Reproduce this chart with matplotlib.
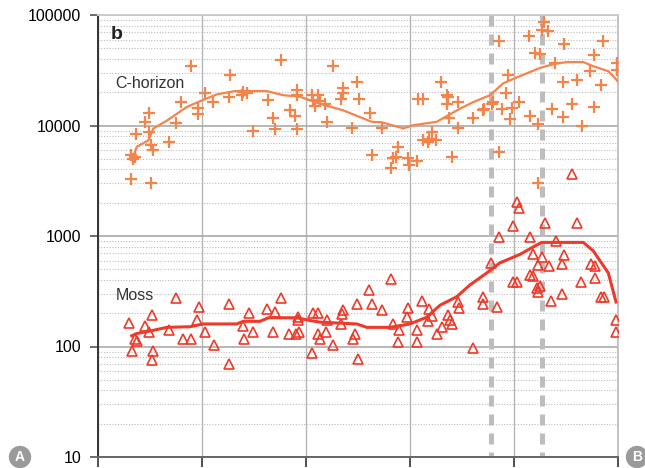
import matplotlib
matplotlib.use("Agg")
import matplotlib.pyplot as plt
from matplotlib.ticker import LogLocator, NullFormatter, FixedLocator
import numpy as np

plt.rcParams['font.family'] = ['Liberation Sans', 'DejaVu Sans']

# distance along transect (km), concentration
c_x = [89.1, 126.9, 102.9, 79.8, 96.4, 96.4, 110.9, 126.3, 139.4, 143.0, 138.2, 163.2,
       175.7, 191.6, 191.6, 184.6, 189.4, 168.0, 170.2, 148.8, 191.6, 74.7, 49.3, 45.2,
       36.3, 49.3, 51.0, 53.2, 68.3, 31.4, 35.6, 33.4, 31.7, 51.0, 226.3, 249.3, 235.9,
       235.3, 233.4, 251.0, 205.5, 211.8, 207.0, 213.5, 208.7, 218.3, 261.5, 219.9, 243.9,
       272.8, 329.5, 336.8, 335.3, 346.4, 360.9, 370.5, 378.6, 337.5, 346.4, 308.0, 312.2,
       312.8, 318.6, 320.9, 325.0, 317.6, 288.2, 263.2, 286.5, 283.9, 298.4, 299.3, 306.4,
       281.4, 340.1, 385.9, 428.8, 426.6, 433.0, 414.7, 385.9, 448.1, 485.9, 420.2, 425.0,
       476.9, 439.4, 499.5, 499.5, 473.1, 394.5, 446.8, 460.3, 483.7, 335.9, 392.3, 380.1,
       405.1, 397.8, 371.2, 388.2, 396.2, 415.4, 423.4, 436.3, 455.5, 446.8, 477.2, 465.1,
       423.4]
c_y = [34400, 28800, 19800, 16300, 14400, 12700, 16300, 18200, 20200, 19500, 18800, 17100,
       38900, 21000, 18800, 13700, 12300, 11600, 9280, 8990, 9280, 10500, 13000, 10700,
       8390, 8680, 6640, 6000, 7100, 5420, 5140, 5000, 3310, 3010, 34400, 25000, 21700,
       19500, 17500, 17500, 18800, 18800, 16900, 16600, 15000, 15700, 13000, 10700, 9410,
       9410, 24600, 18200, 15700, 16300, 11600, 13700, 15700, 11600, 9410, 17500, 17300,
       7430, 7590, 8680, 7430, 7100, 6410, 5420, 5240, 5060, 5060, 4430, 4810,
       4140, 5140, 5800, 86700, 72600, 71600, 63900, 57800, 54700, 58700, 45700, 44800,
       43500, 37000, 37000, 32100, 31000, 28800, 25000, 25900, 23300, 18800, 19500, 16300,
       16300, 14400, 14200, 14200, 11400, 12300, 10300, 14200, 15700, 11900, 14700, 9800,
       2990]
c_trend_x = [33.4, 37.2, 48.4, 53.2, 66.1, 85.3, 98.1, 114.1, 131.7, 162.2, 178.2, 194.2,
             213.5, 235.9, 263.2, 272.8, 293.6, 303.2, 325.7, 348.1, 360.9, 376.9, 389.7,
             402.6, 425.0, 439.4, 450.7, 466.6, 476.3, 490.7, 497.1, 505.1]
c_trend_y = [5060, 6410, 7340, 9410, 11050, 14700, 16600, 19100, 20500, 20500, 18800, 18200,
             15700, 13700, 10800, 10700, 9410, 10060, 10800, 14200, 16300, 18800, 24100,
             27200, 33200, 36200, 37500, 37500, 34400, 31000, 26800, 22000]

m_x = [30.1, 35.6, 37.2, 32.4, 45.2, 51.6, 49.3, 53.2, 51.6, 75.0, 68.6, 81.4, 89.1, 94.9,
       97.1, 102.9, 111.5, 126.3, 126.3, 139.7, 140.4, 145.2, 148.8, 162.2, 170.2, 168.0,
       176.0, 183.9, 190.4, 192.6, 192.6, 193.6, 205.5, 207.0, 211.3, 211.8, 213.5, 219.9,
       219.2, 226.3, 233.7, 234.3, 235.9, 244.9, 247.1, 249.3, 250.3, 260.9, 263.2, 273.4,
       281.4, 283.9, 289.7, 288.2, 298.4, 297.4, 306.4, 306.4, 311.2, 318.6, 317.6, 320.9,
       325.7, 330.5, 336.3, 338.5, 340.7, 346.4, 347.4, 360.3, 370.5, 369.9, 377.6, 383.4,
       385.9, 399.3, 402.6, 405.1, 398.8, 402.6, 415.4, 418.6, 426.6, 415.4, 418.6, 423.4,
       422.4, 425.0, 423.4, 429.8, 433.7, 435.6, 440.1, 448.1, 446.4, 446.4, 455.5, 460.9,
       464.4, 474.0, 477.9, 477.9, 483.7, 486.5, 498.0, 498.0]
m_y = [162, 116, 112, 91, 152, 194, 134, 92, 76, 276, 142, 118, 116, 175,
       228, 136, 103, 241, 69, 152, 116, 202, 136, 217, 205, 136,
       276, 130, 131, 184, 172, 136, 88, 200, 202, 130, 116, 172,
       136, 103, 160, 198, 212, 116, 130, 241, 77, 325, 241, 212,
       407, 160, 141, 110, 225, 184, 142, 110, 257, 220, 169, 188,
       130, 151, 191, 172, 160, 253, 225, 96, 282, 241, 572, 228,
       973, 1220, 2020, 1810, 382, 382, 970, 692, 650, 440, 431, 552,
       341, 353, 313, 1300, 532, 257, 893, 668, 560, 296, 3620, 1300,
       382, 560, 532, 416, 282, 282, 172, 134]
m_trend_x = [32.4, 37.2, 51.6, 66.1, 88.5, 101.3, 133.4, 139.7, 155.8, 163.8, 191.1, 203.8,
             213.5, 248.8, 258.4, 280.8, 300.0, 316.1, 328.8, 344.9, 357.7, 373.8, 386.5,
             405.8, 418.6, 426.6, 466.6, 476.3, 490.7, 498.1]
m_trend_y = [125, 131, 139, 149, 151, 160, 160, 169, 169, 182, 182, 172,
             166, 160, 149, 149, 160, 184, 236, 282, 361, 463, 572,
             682, 797, 875, 875, 732, 463, 253]

boundaries = [377.9, 426.9]

orange = '#F5844A'
red = '#EE3A2A'

fig = plt.figure(figsize=(6.45, 4.68), dpi=100)
ax = fig.add_axes([98 / 645, 1 - 457 / 468, 520 / 645, 442 / 468])
ax.set_yscale('log')
ax.set_xlim(0, 500)
ax.set_ylim(10, 100000)

# grids
ax.yaxis.set_minor_locator(LogLocator(base=10, subs=np.arange(2, 10)))
ax.yaxis.set_minor_formatter(NullFormatter())
ax.grid(which='minor', axis='y', color='#bdbdbd', linestyle=(0, (1, 1.5)), linewidth=0.8)
ax.grid(which='major', axis='y', color='#aaaaaa', linewidth=1.2)
ax.xaxis.set_major_locator(FixedLocator([0, 100, 200, 300, 400, 500]))
ax.grid(which='major', axis='x', color='#b5b5b5', linewidth=1.0)
ax.set_axisbelow(True)
ax.tick_params(axis='y', which='minor', length=0)
ax.tick_params(axis='y', which='major', length=6, width=1.2, color='#555555', labelsize=11.5, pad=6)
ax.tick_params(axis='x', which='major', length=7, width=1.2, color='#333333', labelbottom=False)
ax.set_yticks([10, 100, 1000, 10000, 100000])
ax.set_yticklabels(['10', '100', '1000', '10000', '100000'])

ax.spines['left'].set_color('#333333')
ax.spines['left'].set_linewidth(1.4)
ax.spines['bottom'].set_color('#666666')
ax.spines['bottom'].set_linewidth(1.4)
ax.spines['top'].set_color('#cccccc')
ax.spines['top'].set_linewidth(1.4)
ax.spines['right'].set_color('#bbbbbb')
ax.spines['right'].set_linewidth(1.2)

for b in boundaries:
    ax.plot([b, b], [100000, 10], color='#bdbdbd', linewidth=3.6,
            linestyle=(0, (2.2, 1.6)), solid_capstyle='butt', zorder=2)

ax.plot(c_x, c_y, linestyle='none', marker='+', markersize=8, markeredgewidth=1.6,
        color=orange, zorder=3)
ax.plot(c_trend_x, c_trend_y, color=orange, linewidth=1.6, zorder=4, clip_on=True)

ax.plot(m_x, m_y, linestyle='none', marker='^', markersize=7.5, markeredgewidth=1.2,
        markerfacecolor='none', markeredgecolor=red, zorder=3)
ax.plot(m_trend_x, m_trend_y, color=red, linewidth=2.2, zorder=4)

ax.text(13 / 520, 0.955, 'b', transform=ax.transAxes, fontsize=14, fontweight='bold',
        color='#222222', va='center', ha='left')
ax.text(17 / 520, 0.845, 'C-horizon', transform=ax.transAxes, fontsize=11.5,
        color='#333333', va='center', ha='left')
ax.text(18 / 520, 0.366, 'Moss', transform=ax.transAxes, fontsize=11.5,
        color='#333333', va='center', ha='left')

fig.text(20 / 645, 1 - 457 / 468, 'A', color='white', fontsize=10, fontweight='bold',
         ha='center', va='center',
         bbox=dict(boxstyle='circle,pad=0.3', fc='#9a9a9a', ec='none'))
fig.text(637 / 645, 1 - 457 / 468, 'B', color='white', fontsize=10, fontweight='bold',
         ha='center', va='center',
         bbox=dict(boxstyle='circle,pad=0.3', fc='#9a9a9a', ec='none'))

fig.savefig('out.png', dpi=100)
